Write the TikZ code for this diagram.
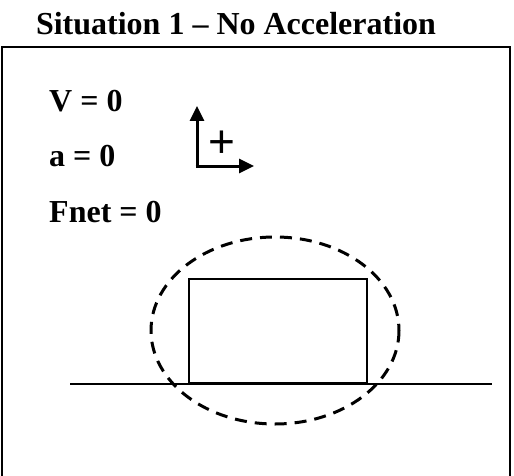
\documentclass[tikz,border=0pt]{standalone}
\usepackage{fontspec}
\setmainfont{Liberation Serif}
\newfontfamily\plusfont{Liberation Sans}
\usetikzlibrary{positioning,arrows.meta}

\begin{document}
\begin{tikzpicture}[
    x=1pt, y=-1pt,
    >={Triangle[length=15pt,width=14pt]},
    lbl/.style={inner sep=0pt, anchor=base west, font=\fontsize{32}{36}\selectfont\bfseries},
    axis/.style={line width=3pt, ->},
    thin line/.style={line width=2pt},
  ]
    \useasboundingbox (0,0) rectangle (514,476);
    \draw[line width=2.2pt] (2,480) -- (2,47) -- (510,47) -- (510,480);

    \node[lbl, anchor=base] (title) at (236,35) {Situation 1 -- No Acceleration};

    \node[lbl] (v)    at (49,112) {V = 0};
    \node[lbl] (a)    at (49,167) {a = 0};
    \node[lbl] (fnet) at (49,222) {Fnet = 0};

    % axes with plus sign
    \coordinate (o)  at (197,166);
    \coordinate (up) at (197,106);
    \coordinate (rt) at (254,166);
    \draw[axis] ([yshift=1.5pt]o) -- (up);
    \draw[axis] ([xshift=-1.5pt]o) -- (rt);
    \node[inner sep=0pt, font=\plusfont\fontsize{46}{46}\selectfont] (plus) at (222,144) {+};

    % block on the ground
    \coordinate (gl) at (70,384);
    \coordinate (gr) at (492,384);
    \draw[thin line] (gl) -- (gr);
    \node[draw, thin line, anchor=south west, minimum width=178pt, minimum height=104pt,
      inner sep=0pt] (block) at (188,384) {};

    \draw[line width=3pt, dash pattern=on 12pt off 8pt] (275,330.5) ellipse (124 and 93.5);
  \end{tikzpicture}
\end{document}
